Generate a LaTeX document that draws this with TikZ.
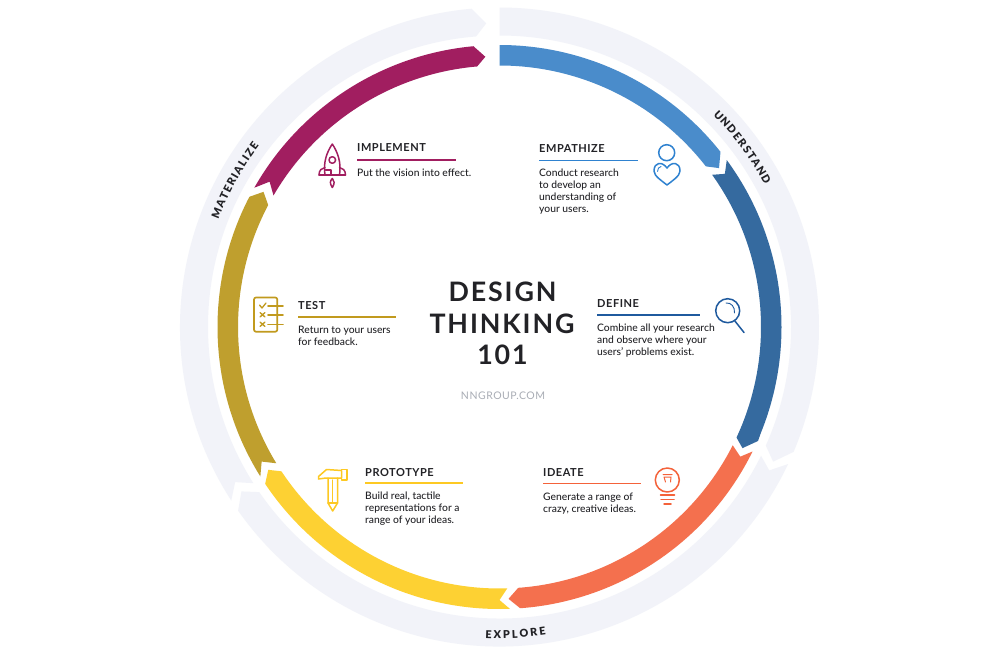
\documentclass[tikz,border=0pt]{standalone}
\usepackage{fontspec}
\setmainfont{Lato Medium}
\newfontfamily\headfont[LetterSpace=5]{Lato Bold}
\newfontfamily\titlefont[LetterSpace=7]{Lato Bold}
\newfontfamily\markfont[LetterSpace=5]{Lato}
\newfontfamily\ringface{Lato Black}
\usetikzlibrary{decorations.text}
\definecolor{cEmp}{HTML}{4A8CCB}
\definecolor{cDef}{HTML}{356A9F}
\definecolor{cIde}{HTML}{F4704E}
\definecolor{cPro}{HTML}{FDD133}
\definecolor{cTes}{HTML}{BF9F2E}
\definecolor{cImp}{HTML}{A11E60}
\definecolor{cRing}{HTML}{F2F3F9}
\definecolor{lEmp}{HTML}{2F82D0}
\definecolor{lDef}{HTML}{1F5A9E}
\definecolor{lIde}{HTML}{F4623A}
\definecolor{lPro}{HTML}{FDC923}
\definecolor{lTes}{HTML}{C19A1E}
\definecolor{cText}{HTML}{222226}
\definecolor{cMark}{HTML}{A9ADB5}
\newcommand\bandshape[9]{%
  \fill[#1] ({90-#4}:#2) arc[start angle={90-#4}, end angle={90-#5}, radius=#2] #8
    -- ({90-#6}:#3) arc[start angle={90-#6}, end angle={90-#7}, radius=#3] #9 -- cycle;}
\newcommand\pol[2]{({90-#1}:#2)}
\tikzset{
  heading/.style={anchor=base west, inner sep=0pt, text=cText, font=\headfont\fontsize{11}{12}\selectfont},
  bodytext/.style={anchor=north west, inner sep=0pt, text=cText, align=left, font=\fontsize{10.3}{12}\selectfont},
  titletext/.style={anchor=base, inner sep=0pt, text=cText, font=\titlefont\fontsize{26.8}{30}\selectfont},
  rulerline/.style={line width=1.6pt},
  icon/.style={line width=1.5pt, line join=round, line cap=round},
  ringtext/.style={decorate, decoration={text effects along path, text={#1}, text align=center,
     text effects/.cd, text along path, character widths={inner xsep=1pt},
     characters={inner xsep=0pt, inner ysep=0pt, text=cText, font=\ringface\fontsize{10.8}{12}\selectfont}}},
  widetext/.style={decorate, decoration={text effects along path, text={#1}, text align=center,
     text effects/.cd, text along path, character widths={inner xsep=1.4pt},
     characters={inner xsep=0pt, inner ysep=0pt, text=cText, font=\ringface\fontsize{10.8}{12}\selectfont}}}
}
\begin{document}
\begin{tikzpicture}[x=1pt,y=-1pt]
\useasboundingbox (0,0) rectangle (1000,656);
\fill[white] (0,0) rectangle (1000,656);
\begin{scope}[shift={(499.5,327)},y=1pt]
% outer ring
\bandshape{cRing}{319.5}{291.5}{0}{113}{114}{0}{-- \pol{116.2}{305}}{}
\bandshape{cRing}{319.5}{291.5}{115.4}{234.9}{235.5}{116.2}{-- \pol{237.5}{306}}{-- \pol{118}{305.5}}
\bandshape{cRing}{319.5}{291.5}{237.1}{355}{355.4}{237.6}{-- \pol{357.5}{304}}{-- \pol{239.6}{306.5}}
% inner ring
\bandshape{cEmp}{282}{261.5}{0}{51.6}{52.1}{0}{-- \pol{54.1}{271}}{}
\bandshape{cDef}{282}{261.5}{53.7}{112}{115}{54.4}{-- \pol{113.8}{282.5} -- \pol{116.5}{271.5}}{-- \pol{55.8}{272.5}}
\bandshape{cIde}{282}{261.5}{116.2}{175.8}{175.9}{116.9}{-- \pol{178.1}{272}}{-- \pol{118.3}{273.5}}
\bandshape{cPro}{282}{261.5}{177.9}{236.2}{236.5}{178.3}{-- \pol{238.3}{271.8}}{-- \pol{180}{273}}
\bandshape{cTes}{282}{261.5}{238}{297.5}{297.8}{238.6}{-- \pol{299.8}{272}}{-- \pol{240.5}{273.3}}
\bandshape{cImp}{282}{261.5}{299.6}{354.7}{355.1}{300.2}{-- \pol{357}{270.6}}{-- \pol{302.3}{272}}
% ring labels
\path[ringtext={UNDERSTAND}] ({90-33.5}:301) arc[start angle={90-33.5}, end angle={90-73.5}, radius=301];
\path[ringtext={MATERIALIZE}] ({90-279}:301) arc[start angle={90-279}, end angle={90-319}, radius=301];
\path[widetext={EXPLORE}] ({90-190}:311.5) arc[start angle={90-190}, end angle={90-164}, radius=311.5];
\end{scope}
% title
\node[titletext] (t1) at (502.5,301.5) {DESIGN};
\node[titletext] (t2) at (502,333) {THINKING};
\node[titletext] (t3) at (502.5,364.5) {101};
\node[anchor=base, inner sep=0pt, text=cMark, font=\markfont\fontsize{10.5}{12}\selectfont] (mark) at (503,399) {NNGROUP.COM};
% EMPATHIZE
\node[heading] (h1) at (539,152) {EMPATHIZE};
\draw[rulerline,lEmp] (539,160.5) -- (638,160.5);
\node[bodytext] (b1) at (539,168.5) {Conduct research\\to develop an\\understanding of\\your users.};
% DEFINE
\node[heading] (h2) at (597,307) {DEFINE};
\draw[rulerline,lDef] (597,315) -- (700,315);
\node[bodytext] (b2) at (597,323.5) {Combine all your research\\and observe where your\\users' problems exist.};
% IDEATE
\node[heading] (h3) at (543,476) {IDEATE};
\draw[rulerline,lIde] (543,483.5) -- (641,483.5);
\node[bodytext] (b3) at (543,492.5) {Generate a range of\\crazy, creative ideas.};
% PROTOTYPE
\node[heading] (h4) at (365,476) {PROTOTYPE};
\draw[rulerline,lPro] (365,483) -- (463,483);
\node[bodytext] (b4) at (365,491.5) {Build real, tactile\\representations for a\\range of your ideas.};
% TEST
\node[heading] (h5) at (298,309) {TEST};
\draw[rulerline,lTes] (298,317) -- (396,317);
\node[bodytext] (b5) at (298,325.5) {Return to your users\\for feedback.};
% IMPLEMENT
\node[heading] (h6) at (357,151) {IMPLEMENT};
\draw[rulerline,cImp] (357,160) -- (456,160);
\node[bodytext] (b6) at (357,168.5) {Put the vision into effect.};
% person icon
\begin{scope}[icon,lEmp]
\draw (666.7,152.7) circle[radius=8];
\draw (667,168) .. controls (662,161) and (654,162) .. (654,171) .. controls (654,176) and (662,181) .. (667,185)
  .. controls (672,181) and (680,176) .. (680,171) .. controls (680,162) and (672,161) .. (667,168) -- cycle;
\draw[line width=.9pt] (657.5,171.5) .. controls (657.5,168.5) and (659,167) .. (661,166.5);
\end{scope}
% magnifier icon
\begin{scope}[icon,lDef]
\draw (727.7,310.7) circle[radius=12];
\draw (734.5,320.5) -- (744,332.5);
\draw[line width=.9pt] (726,303) .. controls (731,302.5) and (735,306.5) .. (734.5,313);
\end{scope}
% bulb icon
\begin{scope}[icon,lIde]
\draw (667.3,480) circle[radius=12];
\draw[line width=1pt] (663,474.5) -- (672,474.5) (664,477) -- (665.5,482) (670.5,482) -- (671,477) (664,477) -- (671,477);
\draw (660.5,495) -- (674.5,495) (661,499.5) -- (674,499.5) (664,504) -- (671,504);
\end{scope}
% hammer icon
\begin{scope}[icon,lPro]
\draw (318.5,476.5) -- (326.5,469.5) -- (341.5,470.5) -- (341.5,478) -- (326,478) -- (318.5,479) -- cycle;
\draw (341.5,469.5) rectangle (347,480);
\draw (328,478) -- (328,503) -- (332.7,511) -- (337.5,503) -- (337.5,478);
\draw (328,503) -- (337.5,503) (332.7,480) -- (332.7,503);
\end{scope}
% checklist icon
\begin{scope}[icon,lTes,line width=1.7pt]
\draw[rounded corners=2pt] (254,297.5) rectangle (277.3,331.7);
\draw (268,306) -- (283,306) (268,315) -- (283,315) (268,324.5) -- (283,324.5);
\draw[line width=1.3pt] (259.5,305) -- (262,308) -- (266,303);
\draw[line width=1.3pt] (260,312.5) -- (265,317) (265,312.5) -- (260,317);
\draw[line width=1.3pt] (260,322) -- (265,326.5) (265,322) -- (260,326.5);
\end{scope}
% rocket icon
\begin{scope}[icon,cImp]
\draw (325,175) .. controls (323,162) and (327,152) .. (332.3,144) .. controls (337.5,152) and (341.5,162) .. (339.5,175);
\draw (319,175) -- (345.5,175);
\draw (319,175) .. controls (319,170) and (322,168) .. (325,167.5);
\draw (345.5,175) .. controls (345.5,170) and (342.5,168) .. (339.5,167.5);
\draw (325.5,170) -- (331,170) (331,170) -- (331,175);
\draw (332.3,160) circle[radius=3.3];
\draw (332.3,178.5) .. controls (330,181) and (329.5,183) .. (332.3,187.5) .. controls (335,183) and (334.5,181) .. (332.3,178.5);
\end{scope}
\end{tikzpicture}
\end{document}
